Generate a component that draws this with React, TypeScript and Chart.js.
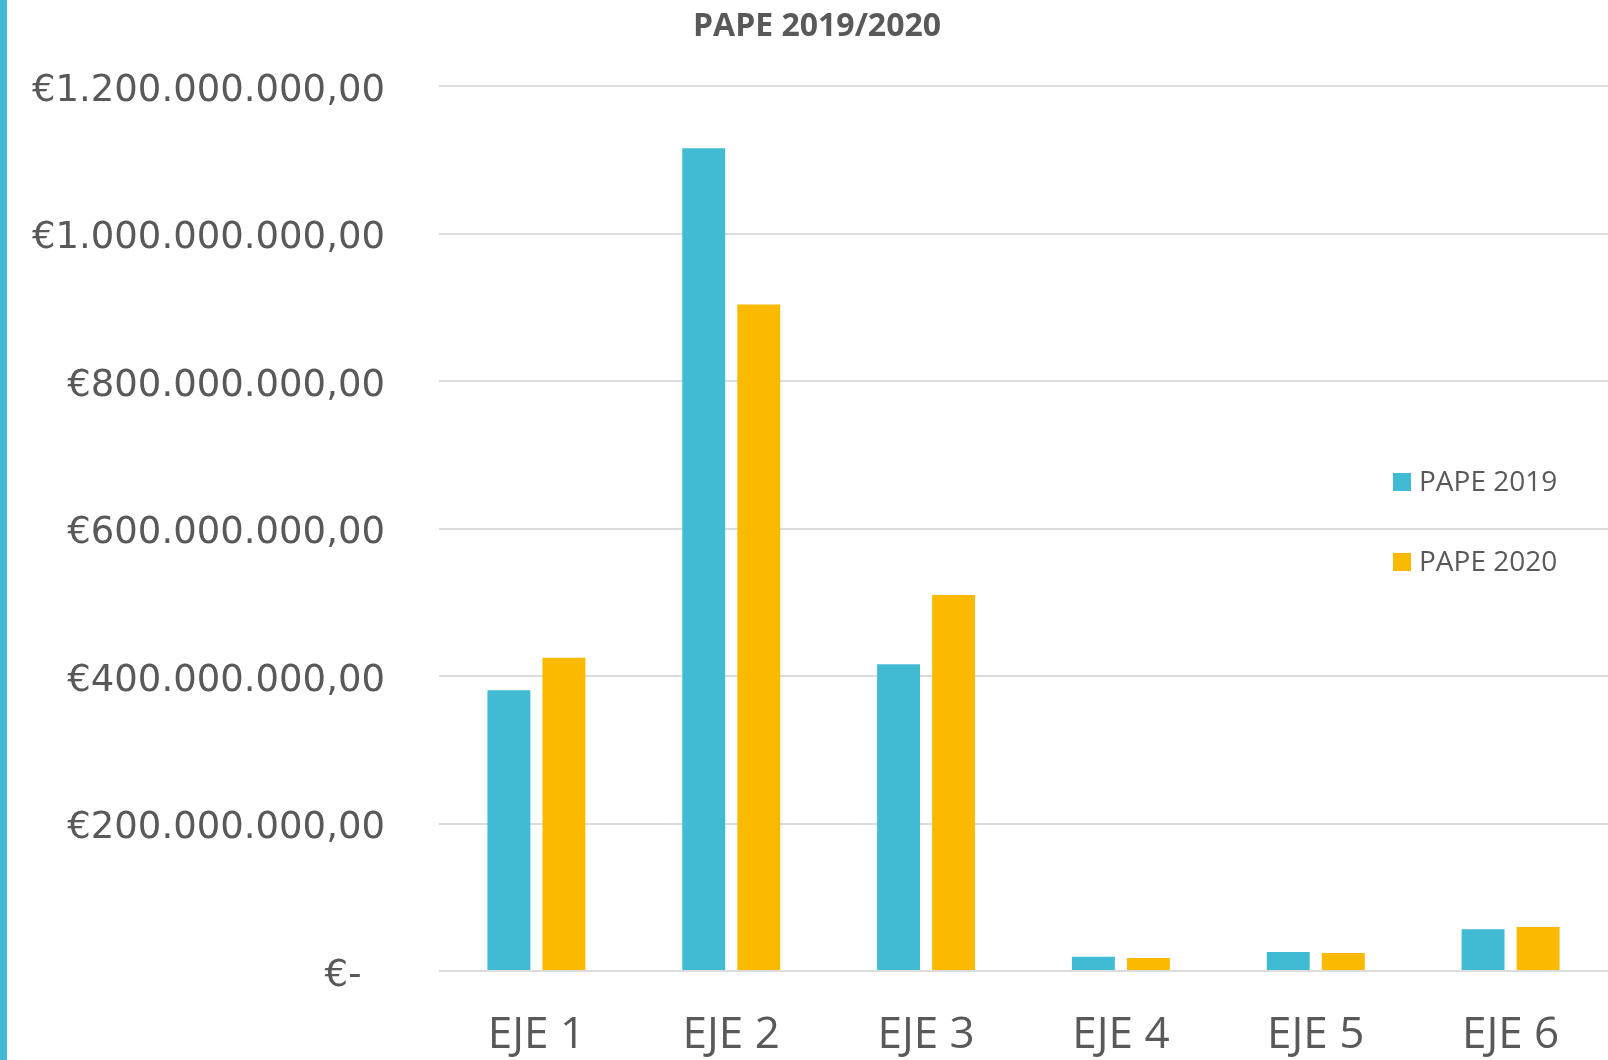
import React, { useEffect, useRef } from "react";
import { Chart, registerables } from "chart.js";

Chart.register(...registerables);

const categories = ["EJE 1", "EJE 2", "EJE 3", "EJE 4", "EJE 5", "EJE 6"];
const seriesLabels = ["PAPE 2019", "PAPE 2020"];
const pape2019 = [381000000, 1116000000, 416000000, 19400000, 25800000, 56500000];
const pape2020 = [425000000, 904000000, 510000000, 17600000, 24400000, 59700000];
const yTicks = [0, 200000000, 400000000, 600000000, 800000000, 1000000000, 1200000000];
const titleText = "PAPE 2019/2020";

const BLUE = "#41BAD4";
const YELLOW = "#FBBA00";
const TEXT = "#595959";
const GRID = "#DCDCDC";

function formatEuro(v: number): string {
  if (v === 0) return "€-  ";
  const s = Math.round(v)
    .toString()
    .replace(/\B(?=(\d{3})+(?!\d))/g, ".");
  return "€" + s + ",00";
}

const stripePlugin = {
  id: "stripe",
  beforeDraw(chart: any) {
    const ctx = chart.ctx;
    ctx.save();
    ctx.fillStyle = "#FFFFFF";
    ctx.fillRect(0, 0, chart.width, chart.height);
    ctx.fillStyle = BLUE;
    ctx.fillRect(0, 0, 7, chart.height);
    ctx.restore();
  },
};

const legendPlugin = {
  id: "customLegend",
  afterDraw(chart: any) {
    const ctx = chart.ctx;
    ctx.save();
    ctx.font = "28px 'Open Sans'";
    ctx.textBaseline = "middle";
    ctx.textAlign = "left";
    const ys = [482, 562];
    chart.data.datasets.forEach((ds: any, i: number) => {
      const y = ys[i];
      ctx.fillStyle = ds.backgroundColor;
      ctx.fillRect(1393, y - 9, 18, 18);
      ctx.fillStyle = TEXT;
      ctx.fillText(ds.label, 1419, y + 1);
    });
    ctx.restore();
  },
};

export default function App() {
  const ref = useRef<HTMLCanvasElement | null>(null);

  useEffect(() => {
    if (!ref.current) return;
    const chart = new Chart(ref.current, {
      type: "bar",
      data: {
        labels: categories,
        datasets: [
          {
            label: seriesLabels[0],
            data: pape2019,
            backgroundColor: BLUE,
            barPercentage: 0.78,
            categoryPercentage: 0.565,
          },
          {
            label: seriesLabels[1],
            data: pape2020,
            backgroundColor: YELLOW,
            barPercentage: 0.78,
            categoryPercentage: 0.565,
          },
        ],
      },
      options: {
        responsive: false,
        animation: false,
        devicePixelRatio: 1,
        layout: { padding: { left: 26, right: 0, top: 0, bottom: 0 } },
        plugins: {
          legend: { display: false },
          tooltip: { enabled: false },
          title: {
            display: true,
            text: titleText,
            color: TEXT,
            font: { family: "'Open Sans'", size: 32, weight: "bold" },
            padding: { top: 8, bottom: 40 },
          },
        },
        scales: {
          x: {
            grid: { display: false, drawTicks: false },
            border: { display: false },
            ticks: {
              color: TEXT,
              font: { family: "'Open Sans'", size: 44 },
              padding: 38,
              maxRotation: 0,
              autoSkip: false,
            },
            afterFit(scale: any) {
              scale.height = 89;
            },
          },
          y: {
            min: 0,
            max: 1200000000,
            afterBuildTicks(scale: any) {
              scale.ticks = yTicks.map((v) => ({ value: v }));
            },
            grid: { color: GRID, lineWidth: 2, drawTicks: false },
            border: { display: false },
            ticks: {
              color: TEXT,
              font: { family: "'DejaVu Sans'", size: 37 },
              padding: 54,
              labelOffset: 5,
              callback: (v: any) => formatEuro(Number(v)),
            },
            afterFit(scale: any) {
              scale.width = 413;
            },
          },
        },
      },
      plugins: [stripePlugin, legendPlugin],
    });
    return () => chart.destroy();
  }, []);

  return (
    <div style={{ position: "absolute", left: 0, top: 0, width: 1608, height: 1060 }}>
      <canvas ref={ref} width={1608} height={1060} style={{ display: "block", width: 1608, height: 1060 }} />
    </div>
  );
}
